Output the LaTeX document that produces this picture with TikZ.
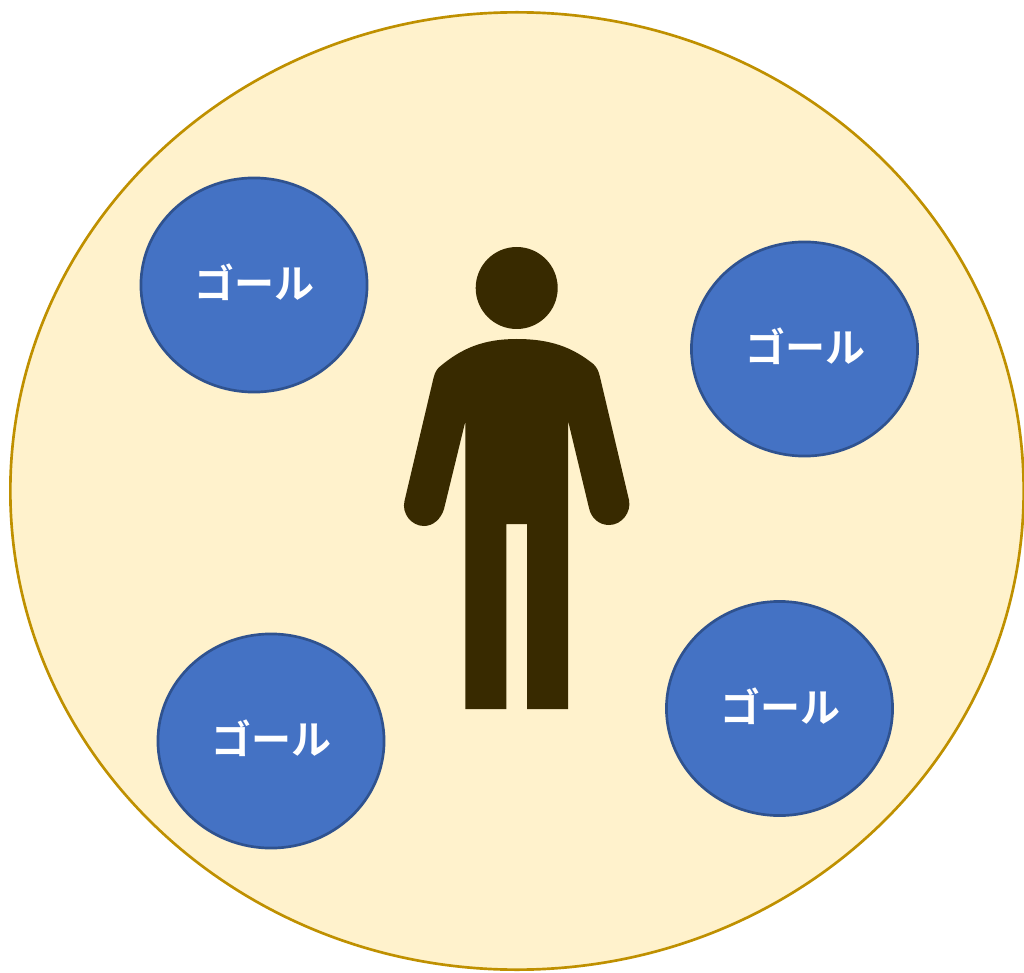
\documentclass[tikz,border=0pt]{standalone}
\usepackage{fontspec}
\newfontfamily\cjk{Noto Sans CJK JP}[BoldFont={Noto Sans CJK JP Bold}]
\definecolor{bigfill}{HTML}{FFF2CC}
\definecolor{bigline}{HTML}{BF9000}
\definecolor{goalfill}{HTML}{4472C4}
\definecolor{goalline}{HTML}{2F528F}
\definecolor{person}{HTML}{382A00}
\tikzset{
  field/.style={ellipse,draw=bigline,fill=bigfill,line width=2pt,minimum width=760pt,minimum height=718pt,inner sep=0pt},
  goal/.style={ellipse,draw=goalline,fill=goalfill,line width=2pt,minimum width=169.6pt,minimum height=160.6pt,inner sep=0pt,text=white,font=\cjk\bfseries\fontsize{30}{36}\selectfont,text depth=6.6pt,text height=27pt},
}
\usetikzlibrary{shapes.geometric}
\begin{document}
\begin{tikzpicture}[x=0.75pt,y=-0.75pt]
\useasboundingbox (0,0) rectangle (1024,973);
\node[field] (field) at (517,491) {};
\node[goal] (g1) at (254,285) {\hspace{0.8pt}ゴール};
\node[goal] (g2) at (804.5,349) {\hspace{0.8pt}ゴール};
\node[goal] (g3) at (271,741) {\hspace{0.8pt}ゴール};
\node[goal] (g4) at (779.5,708.5) {\hspace{0.8pt}ゴール};
\fill[person] (516.7,288) circle[radius=41];
\fill[person] (516.7,339)
  .. controls (550,339) and (572,347) .. (593.3,364)
  .. controls (596,366.5) and (598.5,370) .. (600,377)
  -- (629,500)
  .. controls (631.5,512) and (622,525) .. (609,525)
  .. controls (599,525) and (591,518) .. (589,508)
  -- (568,420.5) -- (568,709) -- (527,709) -- (527,524) -- (506.3,524) -- (506.3,709) -- (465.3,709) -- (465.3,421.5)
  -- (444,509)
  .. controls (441,519) and (433,526) .. (424,526)
  .. controls (411,526) and (401.5,513) .. (404.5,501)
  -- (433.5,378)
  .. controls (435,372) and (437,369) .. (440,366.5)
  .. controls (462,348) and (484,339) .. (516.7,339) -- cycle;
\end{tikzpicture}
\end{document}
